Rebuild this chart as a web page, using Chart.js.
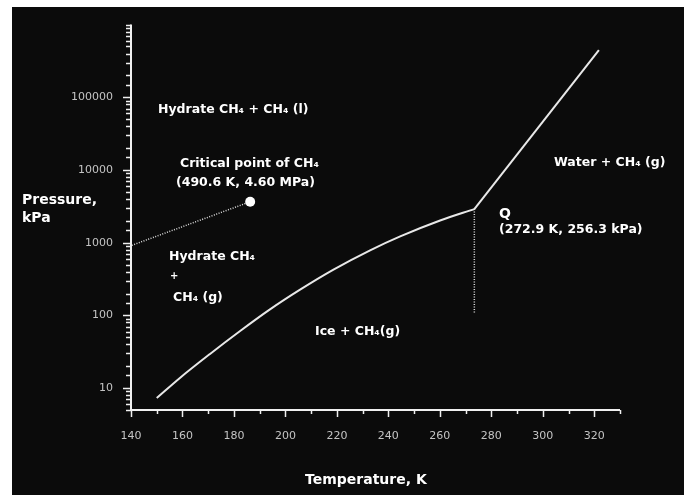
<!DOCTYPE html>
<html>
<head>
<meta charset="utf-8">
<script src="https://cdn.jsdelivr.net/npm/chart.js@4/dist/chart.umd.min.js"></script>
<style>
  html, body { margin: 0; padding: 0; background: #fff; }
  #wrap { width: 684px; height: 495px; }
</style>
</head>
<body>
<div id="wrap"><canvas id="myChart" width="684" height="495"></canvas></div>
<script>
// Hydrate / ice boundary (K, kPa)
const iceTemp = [150, 159, 170.7, 182.4, 194, 205.7, 218.5, 232.9, 244.6, 260.1, 273.4];
const icePress = [7.3, 13.8, 29.5, 61, 121, 226, 423, 785, 1220, 2020, 2900];

// Hydrate / water boundary above Q
const waterTemp = [273.4, 321.8];
const waterPress = [2900, 445000];

// dotted line below Q
const qTemp = [273.4, 273.4];
const qPress = [2900, 105];

// dotted line up to the critical point of CH4
const critTemp = [140.3, 186.3];
const critPress = [920, 3660];

const xTicks = [140, 160, 180, 200, 220, 240, 260, 280, 300, 320];
const yTicks = [10, 100, 1000, 10000, 100000];

const toPts = (xs, ys) => xs.map((x, i) => ({ x: x, y: ys[i] }));

const small = "bold 12.5px 'DejaVu Sans'";
const big = "bold 14px 'DejaVu Sans'";
const labels = [
  { text: "Hydrate CH\u2084 + CH\u2084 (l)", x: 158, y: 110, font: small },
  { text: "Critical point of CH\u2084", x: 180, y: 164, font: small },
  { text: "(490.6 K, 4.60 MPa)", x: 176, y: 183, font: small },
  { text: "Pressure,", x: 22, y: 200, font: big },
  { text: "kPa", x: 22, y: 218, font: big },
  { text: "Water + CH\u2084 (g)", x: 554, y: 163, font: small },
  { text: "Q", x: 499, y: 214, font: big },
  { text: "(272.9 K, 256.3 kPa)", x: 499, y: 230, font: small },
  { text: "Hydrate CH\u2084", x: 169, y: 257, font: small },
  { text: "+", x: 170, y: 276, font: "bold 10px 'DejaVu Sans'" },
  { text: "CH\u2084 (g)", x: 173, y: 298, font: small },
  { text: "Ice + CH\u2084(g)", x: 315, y: 332, font: small },
  { text: "Temperature, K", x: 305, y: 480, font: big },
];

// black panel behind the plot, with the white margin top and left
const background = {
  id: "background",
  beforeDraw(chart) {
    const c = chart.ctx;
    c.save();
    c.fillStyle = "#fff";
    c.fillRect(0, 0, chart.width, chart.height);
    c.fillStyle = "#0b0b0b";
    c.fillRect(12, 7, chart.width - 12, chart.height - 7);
    c.restore();
  },
};

// axis lines, tick marks and text labels
const decorations = {
  id: "decorations",
  afterDraw(chart) {
    const c = chart.ctx;
    const xs = chart.scales.x;
    const ys = chart.scales.y;
    const a = chart.chartArea;
    c.save();
    c.strokeStyle = "#f0f0f0";
    c.lineWidth = 2;
    c.beginPath();
    c.moveTo(a.left, a.top);
    c.lineTo(a.left, a.bottom);
    c.lineTo(a.right, a.bottom);
    c.stroke();

    c.lineWidth = 1.5;
    c.beginPath();
    ys.ticks.forEach((t) => {
      const py = Math.round(ys.getPixelForValue(t.value)) + 0.5;
      const len = yTicks.includes(t.value) ? 8 : 5;
      c.moveTo(a.left - len, py);
      c.lineTo(a.left, py);
    });
    xs.ticks.forEach((t) => {
      const px = Math.round(xs.getPixelForValue(t.value)) + 0.5;
      const len = xTicks.includes(t.value) ? 7 : 4;
      c.moveTo(px, a.bottom);
      c.lineTo(px, a.bottom + len);
    });
    c.stroke();

    c.fillStyle = "#fff";
    c.textBaseline = "middle";
    c.textAlign = "left";
    labels.forEach((l) => {
      c.font = l.font;
      c.fillText(l.text, l.x, l.y);
    });
    c.restore();
  },
};

const ctx = document.getElementById("myChart").getContext("2d");
const myChart = new Chart(ctx, {
  type: "scatter",
  data: {
    datasets: [
      {
        data: toPts(iceTemp, icePress),
        showLine: true,
        borderColor: "#e8e8e8",
        borderWidth: 2,
        pointRadius: 0,
        cubicInterpolationMode: "monotone",
      },
      {
        data: toPts(waterTemp, waterPress),
        showLine: true,
        borderColor: "#e8e8e8",
        borderWidth: 2,
        pointRadius: 0,
      },
      {
        data: toPts(qTemp, qPress),
        showLine: true,
        borderColor: "#dddddd",
        borderWidth: 1.5,
        borderDash: [1, 1.5],
        pointRadius: 0,
      },
      {
        data: toPts(critTemp, critPress),
        showLine: true,
        borderColor: "#dddddd",
        borderWidth: 1.5,
        borderDash: [1, 1.5],
        pointRadius: [0, 5],
        pointBackgroundColor: "#fff",
        pointBorderWidth: 0,
      },
    ],
  },
  options: {
    responsive: false,
    animation: false,
    clip: false,
    layout: { padding: { top: 18, right: 64, left: 0, bottom: 0 } },
    plugins: {
      legend: { display: false },
      tooltip: { enabled: false },
    },
    scales: {
      x: {
        type: "linear",
        min: 140,
        max: 330,
        border: { display: false },
        grid: { display: false, drawTicks: false },
        ticks: {
          stepSize: 10,
          padding: 20,
          color: "#c4c4c4",
          font: { family: "'DejaVu Sans'", size: 11 },
          maxRotation: 0,
          autoSkip: false,
          callback: (v) => (xTicks.includes(v) ? String(v) : ""),
        },
        afterFit(scale) {
          scale.height = 85;
        },
      },
      y: {
        type: "logarithmic",
        min: 5,
        max: 1000000,
        border: { display: false },
        grid: { display: false, drawTicks: false },
        ticks: {
          padding: 18,
          color: "#c4c4c4",
          font: { family: "'DejaVu Sans'", size: 11 },
          autoSkip: false,
          callback: (v) => (yTicks.includes(v) ? String(v) : ""),
        },
        afterFit(scale) {
          scale.width = 131;
        },
      },
    },
  },
  plugins: [background, decorations],
});
</script>
</body>
</html>
